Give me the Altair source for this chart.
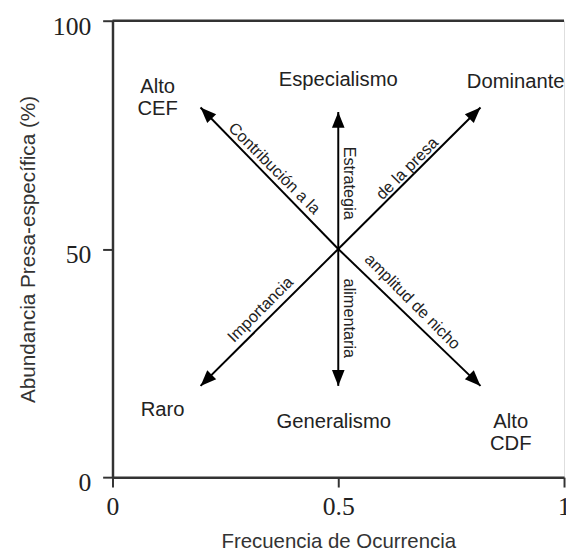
import altair as alt
import pandas as pd

# Centre of the diagram
center_x = 0.5
center_y = 50

# Arrow tips (data space) and arrow-head orientation
tip_x = [0.195, 0.5, 0.815, 0.195, 0.5, 0.815]
tip_y = [81, 80, 81, 20, 20, 20]
tip_angle = [315, 0, 45, 225, 180, 135]

# Corner / end labels
end_text = ["Alto\nCEF", "Especialismo", "Dominante", "Raro", "Generalismo", "Alto\nCDF"]
end_x = [0.100, 0.5, 0.893, 0.111, 0.49, 0.882]
end_y = [85.5, 87.0, 86.6, 14.7, 12.1, 12.1]

# Labels written along the arrows
along_text = ["Contribución a la", "Estrategia", "de la presa",
              "Importancia", "alimentaria", "amplitud de nicho"]
along_x = [0.358, 0.524, 0.653, 0.328, 0.524, 0.664]
along_y = [67.6, 64.4, 67.6, 36.7, 34.8, 38.4]
along_angle = [45, 90, 315, 315, 90, 45]

x_ticks = [0, 0.5, 1]
y_ticks = [0, 50, 100]

arrows = pd.DataFrame({"x": [center_x] * 6, "y": [center_y] * 6,
                       "x2": tip_x, "y2": tip_y, "angle": tip_angle})
heads = pd.DataFrame({"x": tip_x, "y": tip_y, "angle": tip_angle})
ends = pd.DataFrame({"x": end_x, "y": end_y, "t": end_text})
alongs = pd.DataFrame({"x": along_x, "y": along_y, "t": along_text, "angle": along_angle})

xscale = alt.Scale(domain=[0, 1], nice=False, zero=False)
yscale = alt.Scale(domain=[0, 100], nice=False, zero=False)

xaxis = alt.Axis(values=x_ticks, title="Frecuencia de Ocurrencia", grid=False,
                 labelFont="Liberation Serif", labelFontSize=26, labelColor="#222",
                 labelFlush=False, labelPadding=7, labelOverlap=False,
                 labelExpr="datum.value == 0.5 ? '0.5' : toString(datum.value)",
                 tickSize=10, tickWidth=2, tickColor="#333",
                 domainColor="#333", domainWidth=2.5,
                 titleFont="Liberation Sans", titleFontSize=20.7, titleFontWeight="normal",
                 titleColor="#333", titlePadding=12)
yaxis = alt.Axis(values=y_ticks, title="Abundancia Presa-específica (%)", grid=False,
                 labelFont="Liberation Serif", labelFontSize=26, labelColor="#222",
                 labelFlush=False, labelPadding=12, labelOffset=6,
                 tickSize=10, tickWidth=2, tickColor="#333",
                 domainColor="#333", domainWidth=2.5,
                 titleFont="Liberation Sans", titleFontSize=21, titleFontWeight="normal",
                 titleColor="#333", titlePadding=14)

lines = alt.Chart(arrows).mark_rule(color="black", strokeWidth=2).encode(
    x=alt.X("x:Q", scale=xscale, axis=xaxis),
    y=alt.Y("y:Q", scale=yscale, axis=yaxis),
    x2="x2:Q", y2="y2:Q",
)

head_marks = alt.Chart(heads).mark_point(
    shape="M0,0L0.8,2L-0.8,2Z", filled=True, color="black", opacity=1, size=256, strokeWidth=0
).encode(x="x:Q", y="y:Q", angle=alt.Angle("angle:Q", scale=None))

top_line = alt.Chart(pd.DataFrame({"a": [0]})).mark_rule(color="#333", strokeWidth=2.5).encode(
    x=alt.datum(0), x2=alt.datum(1), y=alt.datum(100)
)

end_marks = alt.Chart(ends).mark_text(
    font="Liberation Sans", fontSize=20.5, color="#222", lineBreak="\n", lineHeight=22,
    align="center", baseline="middle"
).encode(x="x:Q", y="y:Q", text="t:N")

along_marks = alt.Chart(alongs).mark_text(
    font="Liberation Sans", fontSize=16.5, color="#222", align="center", baseline="middle"
).encode(x="x:Q", y="y:Q", text="t:N", angle=alt.Angle("angle:Q", scale=None))

chart = alt.layer(top_line, lines, head_marks, end_marks, along_marks).properties(
    width=458, height=463,
    autosize=alt.AutoSizeParams(type="none"),
    padding={"left": 106, "top": 9, "right": 2, "bottom": 72},
).configure_view(strokeWidth=0).configure(background="white")

chart.save("out.html", embed_options={"renderer": "svg", "actions": False})
